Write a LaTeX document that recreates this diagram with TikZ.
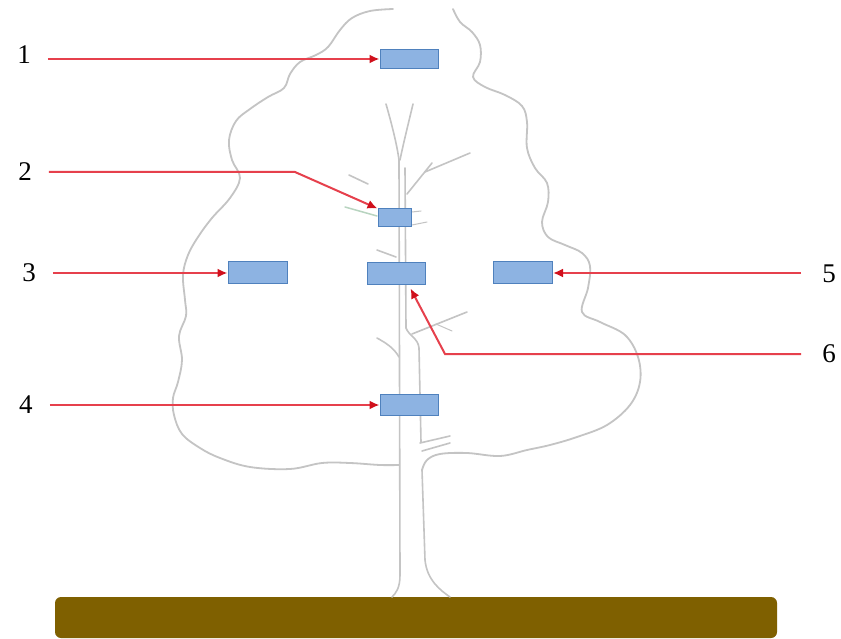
\documentclass[tikz,border=0pt]{standalone}
\usepackage{fontspec}
\setmainfont{Liberation Serif}
\usetikzlibrary{arrows.meta}
\definecolor{treegray}{HTML}{C4C4C4}
\definecolor{leafgreen}{HTML}{B8D4C0}
\definecolor{linered}{HTML}{E6404C}
\definecolor{tipred}{HTML}{D0101C}
\definecolor{boxfill}{HTML}{8DB3E2}
\definecolor{boxedge}{HTML}{4F81BD}
\definecolor{soil}{HTML}{7F6000}
\tikzset{
  outline/.style={draw=treegray, line width=1.8pt, line cap=round, line join=round},
  twig/.style={draw=treegray, line width=1.6pt, line cap=round},
  sampler/.style={draw=boxedge, fill=boxfill, line width=1pt, inner sep=0pt, rectangle},
  num/.style={font=\fontsize{27}{27}\selectfont, inner sep=0pt, text=black},
  pointer/.style={draw=linered, line width=2pt, -{Latex[length=10pt,width=9pt,color=tipred]}}
}
\begin{document}
\begin{tikzpicture}[x=1pt,y=-1pt]
\useasboundingbox[fill=white] (0,0) rectangle (841,639);

% ground strip
\fill[soil, rounded corners=6pt] (55,597) rectangle (777,638);

% crown outline, left half
\draw[outline] plot[smooth, tension=0.6] coordinates {
  (393,9) (370,11) (352,18) (340,30) (328,47) (316,55) (300,62) (290,74)
  (284,88) (268,97) (250,109) (236,121) (229,140) (232,160) (240,178)
  (230,198) (212,218) (198,237) (188,255) (183,275) (185,300) (186,316)
  (179,336) (182,360) (178,382) (173,398) (174,415) (182,434) (200,448)
  (220,458) (250,467) (290,469) (322,463) (350,463) (380,465) (399,465)};

% crown outline, right half
\draw[outline] plot[smooth, tension=0.6] coordinates {
  (453,9) (460,22) (472,32) (480,45) (480,62) (473,77) (485,87) (505,95)
  (522,106) (527,122) (527,148) (535,168) (547,183) (548,202) (542,222)
  (548,237) (565,245) (582,253) (590,266) (588,288) (582,312) (600,322)
  (625,335) (638,357) (640,382) (630,405) (607,425) (577,437) (550,445)
  (527,450) (500,456) (467,453) (440,454) (427,460) (422,470)};

% trunk: forked top
\draw[twig] (386,104) .. controls (392,125) and (397,145) .. (399,160);
\draw[twig] (413,104) .. controls (408,125) and (403,145) .. (400,160);
% trunk: left edge
\draw[twig] (399,160) -- (400,575) .. controls (400,588) and (396,593) .. (392,597);
% trunk: right edge
\draw[twig] (405,168) -- (406,328) .. controls (409,336) and (418,338) .. (419,348)
  -- (421,442);
\draw[twig] (422,470) -- (425,560) .. controls (427,580) and (440,590) .. (450,597);

% side branches
\draw[twig] (407,194) -- (432,163);
\draw[twig] (425,172) -- (470,153);
\draw[twig] (349,175) -- (368,184);
\draw[draw=leafgreen, line width=1.5pt, line cap=round] (345,207) -- (377,216);
\draw[twig, line width=1pt] (412,212) -- (421,211);
\draw[twig, line width=1pt] (412,225) -- (427,222);
\draw[twig] (377,250) -- (396,257);
\draw[twig] (377,338) .. controls (386,343) and (394,348) .. (399,357);
\draw[twig] (412,334) -- (467,312);
\draw[twig, line width=1pt] (436,324) -- (452,331);
\draw[twig] (420,443) -- (450,436);
\draw[twig] (422,451) -- (450,443);

% sample boxes
\node[sampler, minimum width=58pt, minimum height=19pt] (b1) at (409,59) {};
\node[sampler, minimum width=33pt, minimum height=18pt] (b2) at (394.5,218) {};
\node[sampler, minimum width=59pt, minimum height=22pt] (b3) at (257.5,273) {};
\node[sampler, minimum width=58pt, minimum height=22pt] (b6) at (396,274) {};
\node[sampler, minimum width=59pt, minimum height=22pt] (b5) at (523,273) {};
\node[sampler, minimum width=58pt, minimum height=21pt] (b4) at (409,405) {};

% position numbers
\node[num] (l1) at (24,55) {1};
\node[num] (l2) at (25,172) {2};
\node[num] (l3) at (29,273) {3};
\node[num] (l4) at (26,405) {4};
\node[num] (l5) at (829,274) {5};
\node[num] (l6) at (829,354) {6};

% pointers
\draw[pointer] ([xshift=17pt]l1.east |- b1.west) -- (b1.west);
\draw[pointer] ([xshift=17pt]l2.east) -- (295,172) -- (b2.north west);
\draw[pointer] ([xshift=17pt]l3.east |- b3.west) -- (b3.west);
\draw[pointer] ([xshift=17pt]l4.east |- b4.west) -- (b4.west);
\draw[pointer] ([xshift=-21pt]l5.west |- b5.east) -- (b5.east);
\draw[pointer] ([xshift=-21pt]l6.west) -- (445,354) -- ([xshift=-15pt,yshift=-3pt]b6.south east);
\end{tikzpicture}
\end{document}
